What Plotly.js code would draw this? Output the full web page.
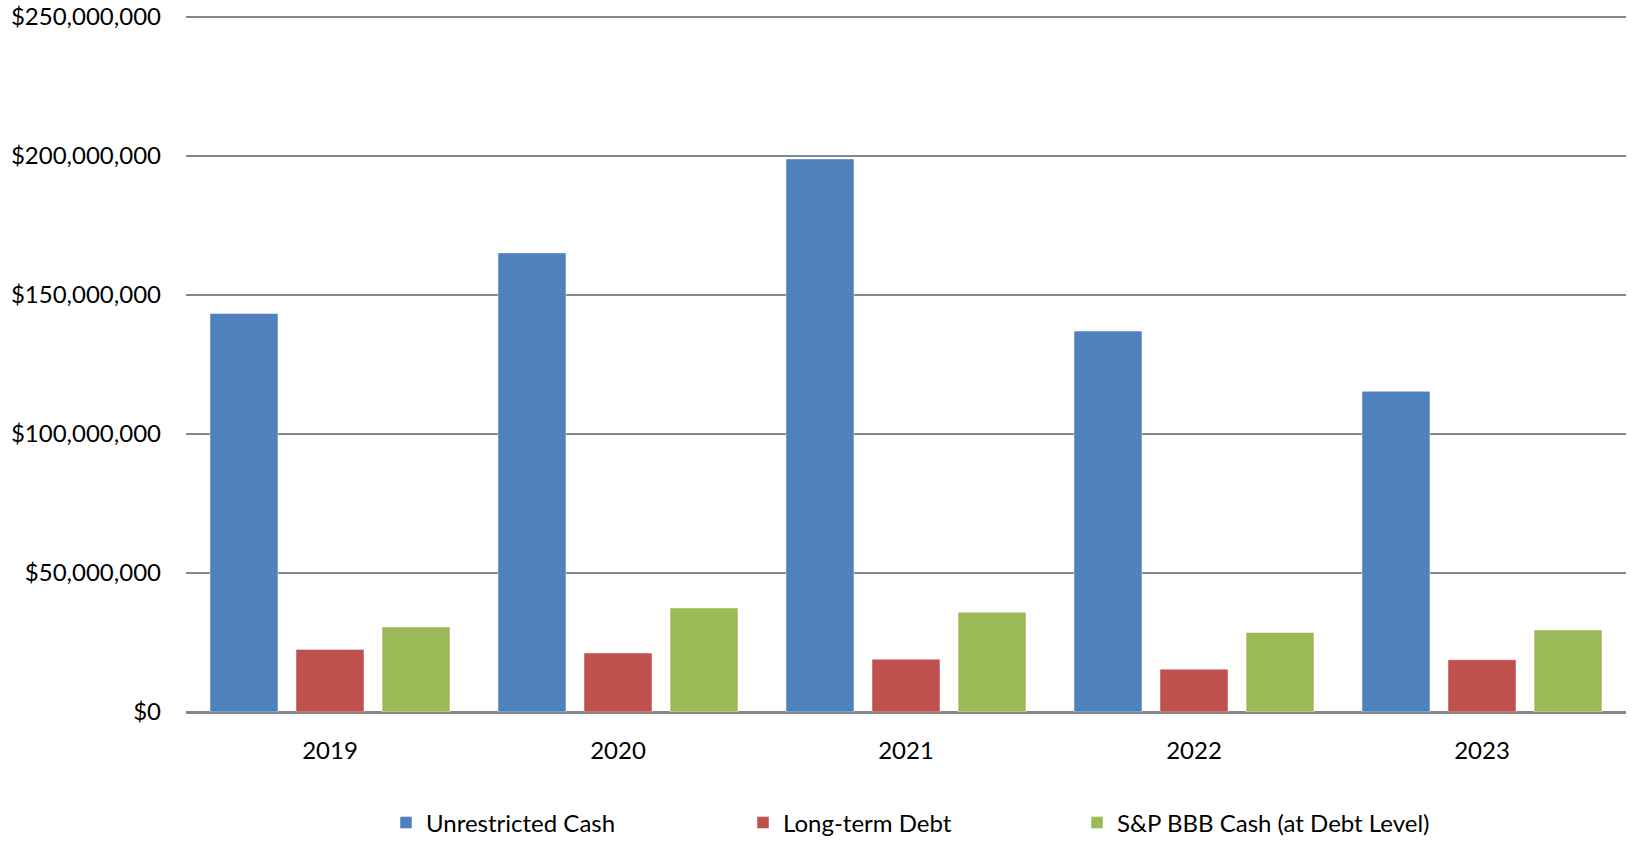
<!DOCTYPE html>
<html>
<head>
<meta charset="utf-8">
<script src="https://cdn.plot.ly/plotly-3.0.1.min.js"></script>
<style>
  html, body { margin: 0; padding: 0; background: #fff; }
  #chart { width: 1647px; height: 842px; }
</style>
</head>
<body>
<div id="chart"></div>
<script>
const years = ['2019', '2020', '2021', '2022', '2023'];
const unrestrictedCash = [143300000, 165100000, 198900000, 137000000, 115300000];
const longTermDebt = [22500000, 21200000, 19000000, 15400000, 18800000];
const bbbCash = [30600000, 37400000, 35900000, 28600000, 29500000];

const yTickVals = [0, 50000000, 100000000, 150000000, 200000000, 250000000];
const yTickText = ['$0', '$50,000,000', '$100,000,000', '$150,000,000', '$200,000,000', '$250,000,000'];

const seriesNames = ['Unrestricted Cash', 'Long-term Debt', 'S&P BBB Cash (at Debt Level)'];
const seriesColors = ['#4F81BD', '#C0504D', '#9BBB59'];
const legendIds = ['legend', 'legend2', 'legend3'];

const font = {family: 'Lato, "Open Sans", sans-serif', size: 24, color: '#000'};

const traces = [unrestrictedCash, longTermDebt, bbbCash].map((vals, i) => ({
  type: 'bar',
  x: years,
  y: vals,
  name: seriesNames[i],
  legend: legendIds[i],
  marker: {color: seriesColors[i], line: {color: 'rgba(255,255,255,0.45)', width: 1}},
  hoverinfo: 'x+y+name'
}));

// one legend per series so each entry sits where the original puts it
function legendAt(x) {
  return {
    orientation: 'h', x: x, xref: 'paper', xanchor: 'left',
    y: -0.159, yanchor: 'middle', font: font,
    bgcolor: 'rgba(0,0,0,0)', itemwidth: 30, tracegroupgap: 0
  };
}

const plotLeft = 186, plotWidth = 1647 - 186 - 21;
const px = x => (x - plotLeft) / plotWidth;

const layout = {
  width: 1647,
  height: 842,
  margin: {l: 186, r: 21, t: 14, b: 130, autoexpand: false},
  paper_bgcolor: '#fff',
  plot_bgcolor: '#fff',
  font: font,
  barmode: 'group',
  bargap: 0.104,
  bargroupgap: 0.21,
  xaxis: {
    type: 'category',
    showgrid: false,
    showline: true,
    linecolor: '#868686',
    linewidth: 2,
    ticks: '',
    ticklabelstandoff: 16,
    tickfont: font
  },
  yaxis: {
    range: [0, 251000000],
    tickmode: 'array',
    tickvals: yTickVals,
    ticktext: yTickText,
    showgrid: true,
    gridcolor: '#868686',
    gridwidth: 1.5,
    zeroline: true,
    zerolinecolor: '#868686',
    zerolinewidth: 2,
    showline: false,
    ticks: '',
    ticklabelstandoff: 24,
    tickfont: font
  },
  legend: legendAt(px(386)),
  legend2: legendAt(px(743)),
  legend3: legendAt(px(1077)),
  showlegend: true
};

Plotly.newPlot('chart', traces, layout, {displayModeBar: false, staticPlot: true});
</script>
</body>
</html>
